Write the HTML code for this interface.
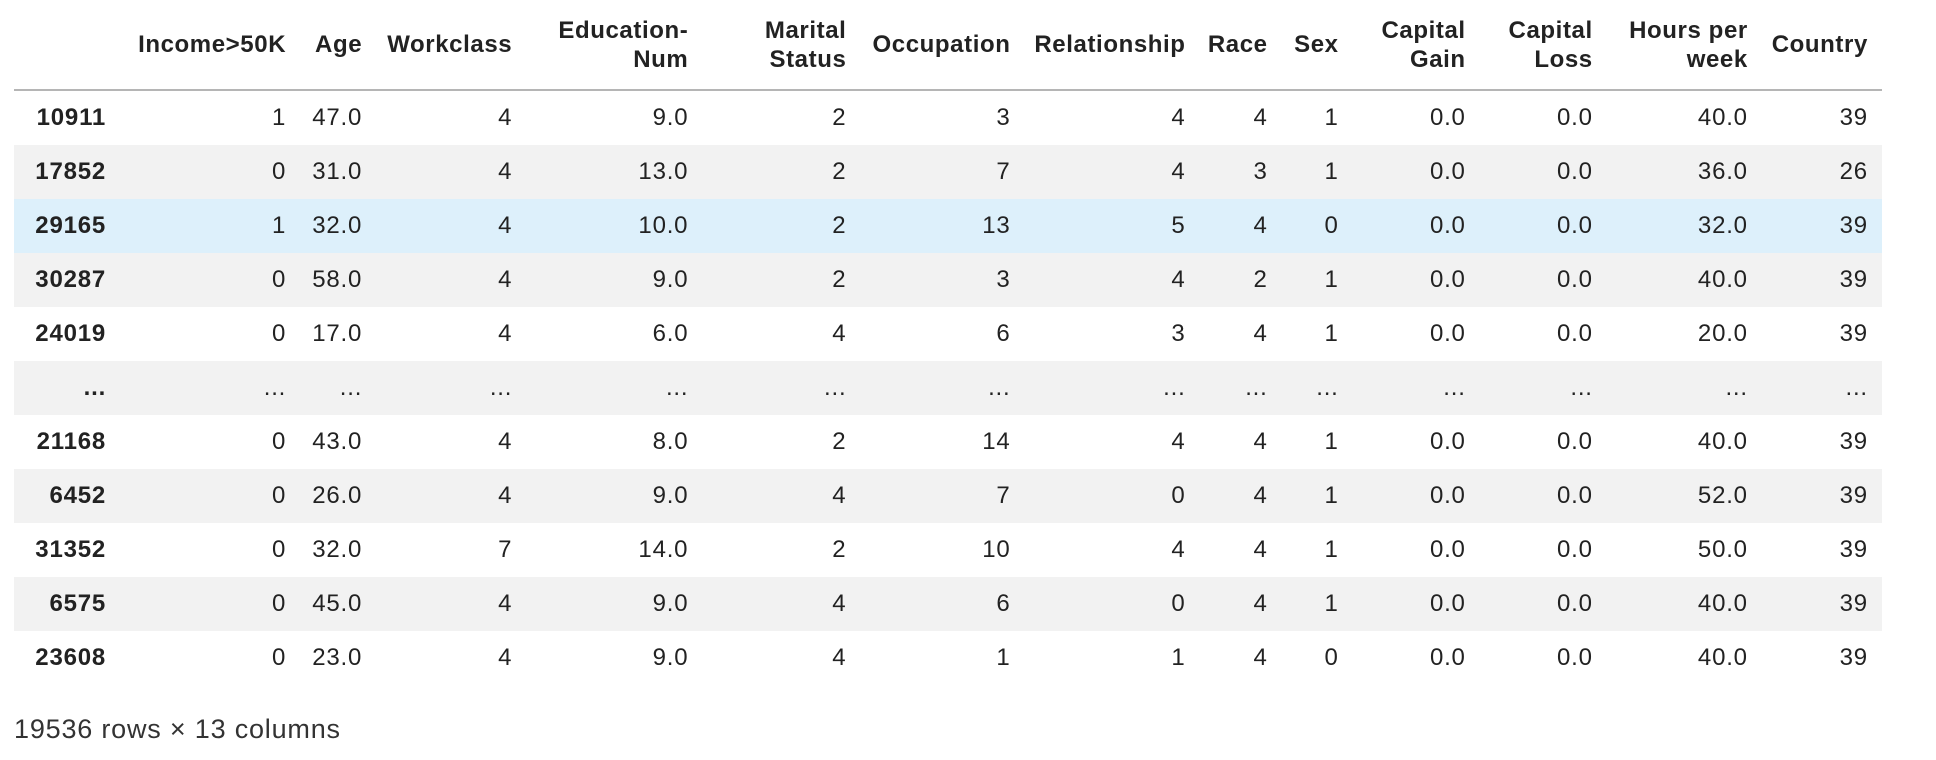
<!DOCTYPE html>
<html><head><meta charset="utf-8"><style>
html,body{margin:0;padding:0;background:#fff;width:1936px;height:760px;overflow:hidden}
body{font-family:"Liberation Sans",Arial,sans-serif;color:#222;font-size:24px;letter-spacing:0.8px}
table{position:absolute;left:14px;top:0;border-collapse:collapse;table-layout:fixed;width:1868px}
td,th{padding:0;text-align:right;white-space:nowrap}
thead th{height:89px;vertical-align:middle;line-height:29px;font-weight:bold;border-bottom:2px solid #b5b5b5;letter-spacing:0.6px}
tbody td,tbody th{height:54px;vertical-align:middle}
tbody th{font-weight:bold}
tbody tr:nth-child(even){background:#f2f2f2}
tbody tr.hl{background:#ddf0fb}
.foot{position:absolute;left:14px;top:714px;font-size:27px;color:#333;letter-spacing:0.8px}
</style></head><body>
<table>
<colgroup>
<col style="width:92px"><col style="width:180px"><col style="width:76px"><col style="width:150px"><col style="width:176px"><col style="width:158px"><col style="width:164px"><col style="width:175px"><col style="width:82px"><col style="width:71px"><col style="width:127px"><col style="width:127px"><col style="width:155px"><col style="width:120px"><col style="width:14px">
</colgroup>
<thead><tr><th></th><th>Income&gt;50K</th><th>Age</th><th>Workclass</th><th>Education-<br>Num</th><th>Marital<br>Status</th><th>Occupation</th><th>Relationship</th><th>Race</th><th>Sex</th><th>Capital<br>Gain</th><th>Capital<br>Loss</th><th>Hours per<br>week</th><th>Country</th><th></th></tr></thead>
<tbody>
<tr><th>10911</th><td>1</td><td>47.0</td><td>4</td><td>9.0</td><td>2</td><td>3</td><td>4</td><td>4</td><td>1</td><td>0.0</td><td>0.0</td><td>40.0</td><td>39</td><td></td></tr>
<tr><th>17852</th><td>0</td><td>31.0</td><td>4</td><td>13.0</td><td>2</td><td>7</td><td>4</td><td>3</td><td>1</td><td>0.0</td><td>0.0</td><td>36.0</td><td>26</td><td></td></tr>
<tr class="hl"><th>29165</th><td>1</td><td>32.0</td><td>4</td><td>10.0</td><td>2</td><td>13</td><td>5</td><td>4</td><td>0</td><td>0.0</td><td>0.0</td><td>32.0</td><td>39</td><td></td></tr>
<tr><th>30287</th><td>0</td><td>58.0</td><td>4</td><td>9.0</td><td>2</td><td>3</td><td>4</td><td>2</td><td>1</td><td>0.0</td><td>0.0</td><td>40.0</td><td>39</td><td></td></tr>
<tr><th>24019</th><td>0</td><td>17.0</td><td>4</td><td>6.0</td><td>4</td><td>6</td><td>3</td><td>4</td><td>1</td><td>0.0</td><td>0.0</td><td>20.0</td><td>39</td><td></td></tr>
<tr><th>...</th><td>...</td><td>...</td><td>...</td><td>...</td><td>...</td><td>...</td><td>...</td><td>...</td><td>...</td><td>...</td><td>...</td><td>...</td><td>...</td><td></td></tr>
<tr><th>21168</th><td>0</td><td>43.0</td><td>4</td><td>8.0</td><td>2</td><td>14</td><td>4</td><td>4</td><td>1</td><td>0.0</td><td>0.0</td><td>40.0</td><td>39</td><td></td></tr>
<tr><th>6452</th><td>0</td><td>26.0</td><td>4</td><td>9.0</td><td>4</td><td>7</td><td>0</td><td>4</td><td>1</td><td>0.0</td><td>0.0</td><td>52.0</td><td>39</td><td></td></tr>
<tr><th>31352</th><td>0</td><td>32.0</td><td>7</td><td>14.0</td><td>2</td><td>10</td><td>4</td><td>4</td><td>1</td><td>0.0</td><td>0.0</td><td>50.0</td><td>39</td><td></td></tr>
<tr><th>6575</th><td>0</td><td>45.0</td><td>4</td><td>9.0</td><td>4</td><td>6</td><td>0</td><td>4</td><td>1</td><td>0.0</td><td>0.0</td><td>40.0</td><td>39</td><td></td></tr>
<tr><th>23608</th><td>0</td><td>23.0</td><td>4</td><td>9.0</td><td>4</td><td>1</td><td>1</td><td>4</td><td>0</td><td>0.0</td><td>0.0</td><td>40.0</td><td>39</td><td></td></tr>
</tbody></table>
<div class="foot">19536 rows × 13 columns</div>
</body></html>
